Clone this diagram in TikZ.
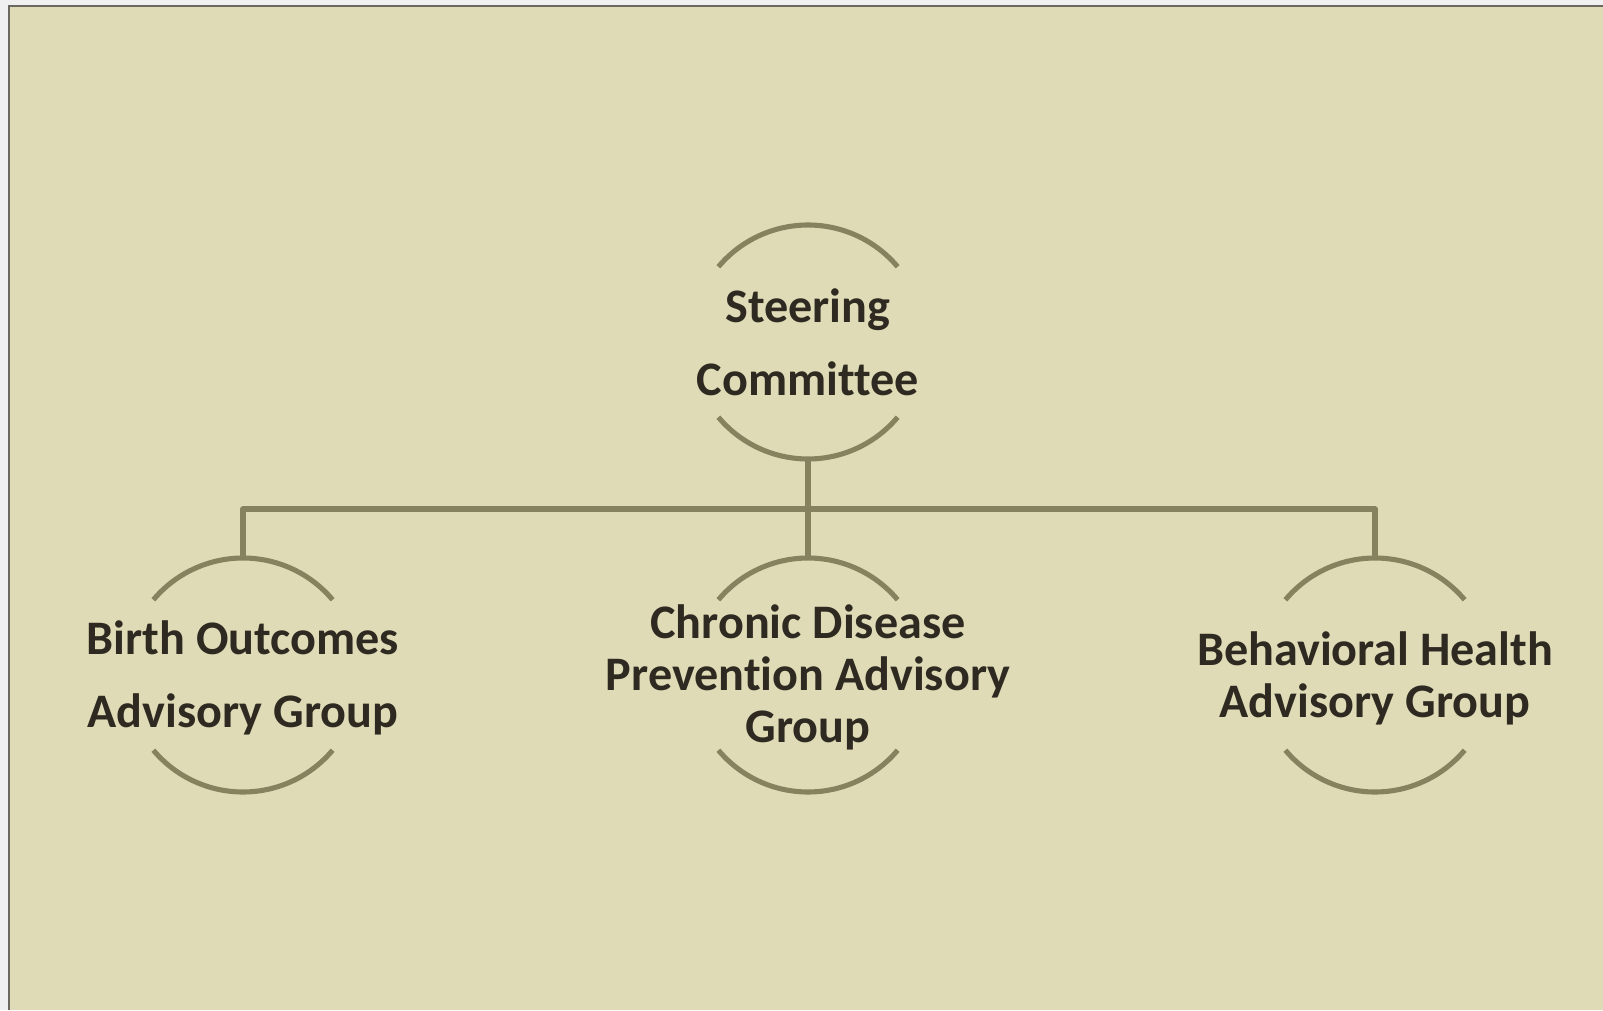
\documentclass[tikz,border=0pt]{standalone}
\usepackage{fontspec}
\setmainfont{Carlito}[Ligatures=NoCommon]
\usepackage{xcolor}
\usepackage{tikz}
\usetikzlibrary{positioning}

\definecolor{paper}{HTML}{DFDBB6}
\definecolor{frame}{HTML}{6B6860}
\definecolor{ringline}{HTML}{868260}
\definecolor{ink}{HTML}{2E2A21}

\tikzset{
  ring/.style={circle, minimum size=2.34cm, inner sep=0pt, outer sep=0pt},
  label text/.style={align=center, text=ink, font=\bfseries\fontsize{13.7}{20.8}\selectfont},
  tight text/.style={align=center, text=ink, font=\bfseries\fontsize{13.7}{14.8}\selectfont},
  link/.style={draw=ringline, line width=1.45pt, line join=round}
}

\begin{document}
\begin{tikzpicture}
  % page and backdrop
  \fill[black!6] (0,0) rectangle (16.03,10.10);
  \useasboundingbox (0,0) rectangle (16.03,10.10);
  \fill[paper] (0.09,0) rectangle (16.03,10.04);
  \draw[frame, line width=0.6pt] (0.09,0) -- (0.09,10.04) -- (16.03,10.04);

  \node[ring] (Steering) at (8.08,6.68) {};
  \node[ring] (Birth) at (2.43,3.35) {};
  \node[ring] (Chronic) at (8.08,3.35) {};
  \node[ring] (Behavioral) at (13.75,3.35) {};

  % open circles, two arcs each
  \foreach \n in {Steering, Birth, Chronic, Behavioral} {
    \draw[link] (\n.40) arc[start angle=40, end angle=140, radius=1.17];
    \draw[link] (\n.220) arc[start angle=220, end angle=320, radius=1.17];
  }

  \node[label text] at (Steering) {Steering\\Committee};
  \node[label text] at ([yshift=-0.03cm]Birth) {Birth Outcomes\\Advisory Group};
  \node[tight text] at ([yshift=-0.02cm]Chronic) {Chronic Disease\\Prevention Advisory\\Group};
  \node[tight text] at ([yshift=-0.03cm]Behavioral) {Behavioral Health\\Advisory Group};

  % connectors
  \coordinate (Bar) at (8.08,5.01);
  \draw[link] (Steering.south) -- (Chronic.north);
  \draw[link] (Birth.north) -- (Birth.north |- Bar) -- (Behavioral.north |- Bar) -- (Behavioral.north);
\end{tikzpicture}
\end{document}
